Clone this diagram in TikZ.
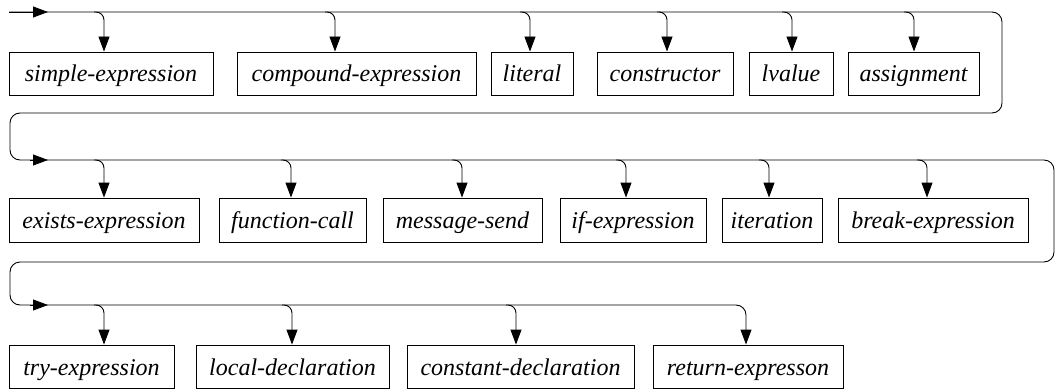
\documentclass[tikz,border=0pt]{standalone}
\usepackage{fontspec}
\setmainfont{Liberation Serif}
\newfontfamily\diagfont{Liberation Serif}
\usetikzlibrary{arrows.meta,calc}
\begin{document}
\begin{tikzpicture}[x=1pt,y=1pt,
  line width=0.9pt,
  tip/.tip={Triangle[width=11pt,length=15pt]},
  box/.style={draw, rectangle, inner sep=0pt, minimum height=43pt,
    text height=22pt, text depth=5pt,
    font=\diagfont\fontsize{24}{28}\selectfont\itshape},
  branch/.style={rounded corners=8pt, -tip},
  railpath/.style={rounded corners=10pt}]
\useasboundingbox (0,0) rectangle (1056,389);

% rows of alternatives
\node[box, minimum width=204pt] (b1) at (111,315.5) {simple-expression};
\node[box, minimum width=239pt] (b2) at (356.5,315.5) {compound-expression};
\node[box, minimum width=82pt]  (b3) at (532,315.5) {literal};
\node[box, minimum width=136pt] (b4) at (665,315.5) {constructor};
\node[box, minimum width=84pt]  (b5) at (791,315.5) {lvalue};
\node[box, minimum width=131pt] (b6) at (913.5,315.5) {assignment};

\node[box, minimum width=190pt, minimum height=44pt] (b7)  at (104,169) {exists-expression};
\node[box, minimum width=147pt, minimum height=44pt] (b8)  at (292.5,169) {function-call};
\node[box, minimum width=159pt, minimum height=44pt] (b9)  at (462.5,169) {message-send};
\node[box, minimum width=146pt, minimum height=44pt] (b10) at (633,169) {if-expression};
\node[box, minimum width=100pt, minimum height=44pt] (b11) at (772,169) {iteration};
\node[box, minimum width=190pt, minimum height=44pt] (b12) at (933,169) {break-expression};

\node[box, minimum width=165pt] (b13) at (91.5,22.5) {try-expression};
\node[box, minimum width=193pt] (b14) at (292.5,22.5) {local-declaration};
\node[box, minimum width=227pt] (b15) at (520.5,22.5) {constant-declaration};
\node[box, minimum width=190pt] (b16) at (748,22.5) {return-expresson};

% rail corners
\coordinate (S1) at (9,377);
\coordinate (L1) at (1002,377);
\coordinate (R1) at (1002,276);
\coordinate (W1) at (10,276);
\coordinate (L2) at (10,229);
\coordinate (R2) at (1054,229);
\coordinate (E2) at (1054,127);
\coordinate (W2) at (10,127);
\coordinate (L3) at (10,84);

% main rail, ending in the last alternative
\draw[railpath, -tip] (S1) -- (L1) -- (R1) -- (W1) -- (L2) -- (R2) -- (E2)
  -- (W2) -- (L3) -| ([xshift=-2pt]b16.north);

% entry arrowheads on each row
\draw[-tip] (S1) -- ++(39,0);
\draw[-tip] ($(L2)+(20,0)$) -- ++(18,0);
\draw[-tip] ($(L3)+(20,0)$) -- ++(18,0);

% branches into the alternatives
\draw[branch] ($(b1.north |- L1)+(-17,0)$) -| ([xshift=-7pt]b1.north);
\draw[branch] ($(b2.north |- L1)+(-31.5,0)$) -| ([xshift=-21.5pt]b2.north);
\draw[branch] ($(b3.north |- L1)+(-12,0)$) -| ([xshift=-2pt]b3.north);
\draw[branch] ($(b4.north |- L1)+(-8,0)$) -| ([xshift=2pt]b4.north);
\draw[branch] ($(b5.north |- L1)+(-9,0)$) -| ([xshift=1pt]b5.north);
\draw[branch] ($(b6.north |- L1)+(-9.5,0)$) -| ([xshift=0.5pt]b6.north);

\draw[branch] ($(b7.north |- L2)+(-10,0)$) -| (b7.north);
\draw[branch] ($(b8.north |- L2)+(-11.5,0)$) -| ([xshift=-1.5pt]b8.north);
\draw[branch] ($(b9.north |- L2)+(-10.5,0)$) -| ([xshift=-0.5pt]b9.north);
\draw[branch] ($(b10.north |- L2)+(-17,0)$) -| ([xshift=-7pt]b10.north);
\draw[branch] ($(b11.north |- L2)+(-13,0)$) -| ([xshift=-3pt]b11.north);
\draw[branch] ($(b12.north |- L2)+(-16,0)$) -| ([xshift=-6pt]b12.north);

\draw[branch] ($(b13.north |- L3)+(2.5,0)$) -| ([xshift=12.5pt]b13.north);
\draw[branch] ($(b14.north |- L3)+(-10.5,0)$) -| ([xshift=-0.5pt]b14.north);
\draw[branch] ($(b15.north |- L3)+(-14.5,0)$) -| ([xshift=-4.5pt]b15.north);
\end{tikzpicture}
\end{document}
